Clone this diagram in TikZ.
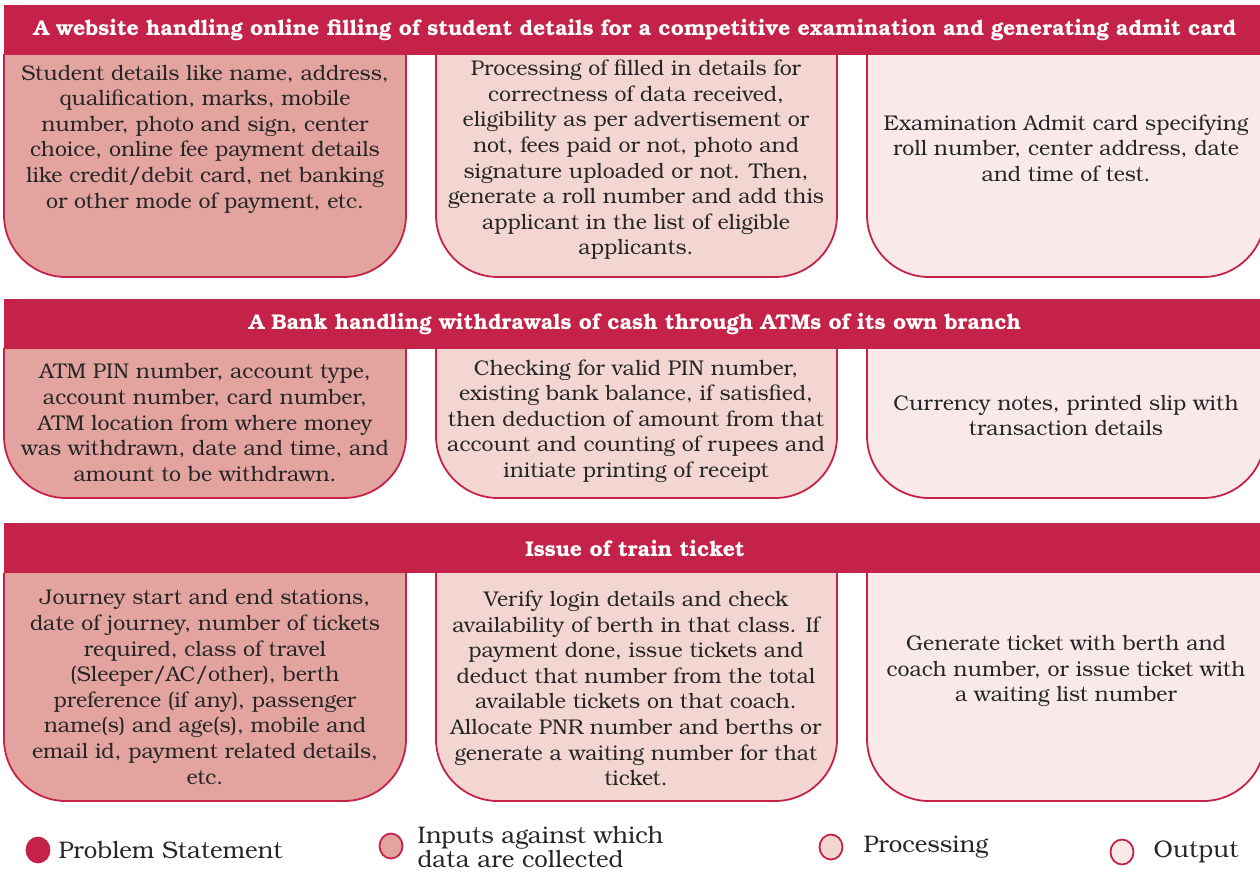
\documentclass[tikz,border=0pt]{standalone}
\usepackage{fontspec}
\setmainfont{TeX Gyre Bonum}
\usetikzlibrary{positioning,shapes.geometric}
\definecolor{probred}{HTML}{C42248}
\definecolor{inputfill}{HTML}{E3A39F}
\definecolor{procfill}{HTML}{F3D6D2}
\definecolor{outfill}{HTML}{F9EAE9}
\definecolor{inktext}{HTML}{262626}
\tikzset{
  %Define style for the red title bars
  titlebar/.style={
    rectangle,
    fill=probred,
    text=white,
    font=\bfseries\fontsize{21.3}{24}\selectfont,
    minimum width=1262pt,
    minimum height=50pt,
    inner sep=0pt},
  %Define style for the boxes below the bars
  panel/.style={
    draw=probred,
    line width=1.8pt,
    rounded corners=62pt},
  inputbox/.style={panel, fill=inputfill},
  procbox/.style={panel, fill=procfill},
  outbox/.style={panel, fill=outfill},
  % Define style for the texts in the boxes
  boxtext/.style={
    align=center,
    text=inktext,
    inner sep=0pt,
    font=\fontsize{21.3}{25.6}\selectfont},
  % Define style for the legend
  legdot/.style={
    ellipse,
    draw=probred,
    line width=1.8pt,
    minimum width=23pt,
    minimum height=25pt,
    inner sep=0pt},
  legtext/.style={
    align=left,
    text=inktext,
    inner sep=0pt,
    font=\fontsize{24}{24}\selectfont}
}

\begin{document}
\begin{tikzpicture}[x=1pt,y=-1pt]
  \useasboundingbox (0,0) rectangle (1260,872);
  % first problem
  \filldraw[inputbox] (4,54) -- (4,277) -- (406,277) -- (406,54);
  \filldraw[procbox] (436,54) -- (436,277) -- (837,277) -- (837,54);
  \filldraw[outbox] (867,54) -- (867,277) -- (1265,277) -- (1265,54);
  \node[titlebar] (web) at (635,30) {A website handling online filling of student details for a competitive examination and generating admit card};
  \node[boxtext] (webin) at (205,139) {Student details like name, address,\\ qualification, marks, mobile\\ number, photo and sign, center\\ choice, online fee payment details\\ like credit/debit card, net banking\\ or other mode of payment, etc.};
  \node[boxtext] (webproc) at (636,160) {Processing of filled in details for\\ correctness of data received,\\ eligibility as per advertisement or\\ not, fees paid or not, photo and\\ signature uploaded or not. Then,\\ generate a roll number and add this\\ applicant in the list of eligible\\ applicants.};
  \node[boxtext] (webout) at (1066,148) {Examination Admit card specifying\\ roll number, center address, date\\ and time of test.};
  % second problem
  \filldraw[inputbox] (4,348) -- (4,498) -- (406,498) -- (406,348);
  \filldraw[procbox] (436,348) -- (436,498) -- (837,498) -- (837,348);
  \filldraw[outbox] (867,348) -- (867,498) -- (1265,498) -- (1265,348);
  \node[titlebar] (bank) at (635,324) {A Bank handling withdrawals of cash through ATMs of its own branch};
  \node[boxtext] (bankin) at (205,422.5) {ATM PIN number, account type,\\ account number, card number,\\ ATM location from where money\\ was withdrawn, date and time, and\\ amount to be withdrawn.};
  \node[boxtext] (bankproc) at (636,421) {Checking for valid PIN number,\\ existing bank balance, if satisfied,\\ then deduction of amount from that\\ account and counting of rupees and\\ initiate printing of receipt};
  \node[boxtext] (bankout) at (1066,415.5) {Currency notes, printed slip with\\ transaction details};
  % third problem
  \filldraw[inputbox] (4,573) -- (4,801) -- (406,801) -- (406,573);
  \filldraw[procbox] (436,573) -- (436,801) -- (837,801) -- (837,573);
  \filldraw[outbox] (867,573) -- (867,801) -- (1265,801) -- (1265,573);
  \node[titlebar] (train) at (635,548) {Issue of train ticket};
  \node[boxtext] (trainin) at (205,687) {Journey start and end stations,\\ date of journey, number of tickets\\ required, class of travel\\ (Sleeper/AC/other), berth\\ preference (if any), passenger\\ name(s) and age(s), mobile and\\ email id, payment related details,\\ etc.};
  \node[boxtext] (trainproc) at (636,688.5) {Verify login details and check\\ availability of berth in that class. If\\ payment done, issue tickets and\\ deduct that number from the total\\ available tickets on that coach.\\ Allocate PNR number and berths or\\ generate a waiting number for that\\ ticket.};
  \node[boxtext] (trainout) at (1066,671) {Generate ticket with berth and\\ coach number, or issue ticket with\\ a waiting list number};
  % legend
  \node[legdot, fill=probred] (legprob) at (38,850) {};
  \node[legtext, right=8pt of legprob] (legprobtxt) {Problem Statement};
  \node[legdot, fill=inputfill] (leginput) at (391,846) {};
  \node[legtext, right=14pt of leginput, yshift=-1pt] (leginputtxt) {Inputs against which\\ data are collected};
  \node[legdot, fill=procfill] (legproc) at (831,847) {};
  \node[legtext, right=20pt of legproc] (legproctxt) {Processing};
  \node[legdot, fill=outfill] (legout) at (1122,852) {};
  \node[legtext, right=19pt of legout] (legouttxt) {Output};
\end{tikzpicture}
\end{document}
